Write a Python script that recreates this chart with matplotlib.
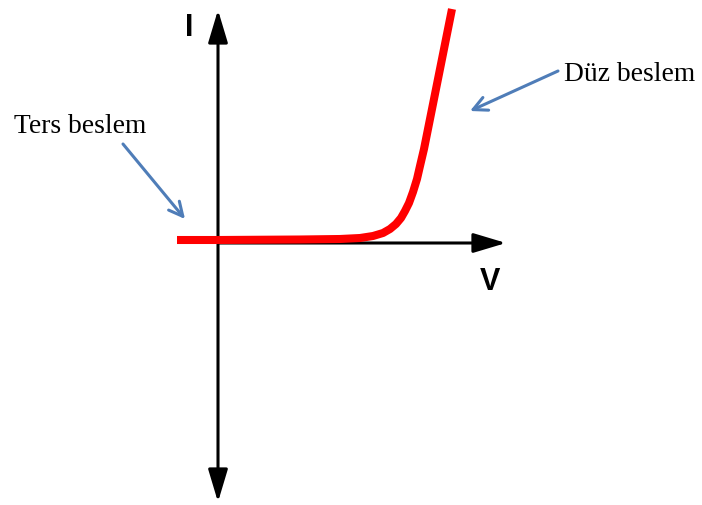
import matplotlib.pyplot as plt

# Diode I-V characteristic (arbitrary units, origin at axes crossing)
voltage = [-41, 0, 82, 122, 142, 155, 165, 172, 178, 183, 187, 191, 195, 199,
           202, 206, 212, 222, 234]
current = [3, 3, 3.5, 4, 5, 7, 10, 14, 19, 25, 32, 40, 51, 64,
           77, 94, 124, 174, 234]

labels = {"reverse": "Ters beslem", "forward": "Düz beslem"}

RED = "#FF0000"
BLUE = "#4F7DB8"

# Canvas in pixel-like units, origin at (218, 244) of a 702x506 picture
X0, Y0 = 218, 244
W, H = 702, 506


def px(x, y):
    return x - X0, Y0 - y


def main():
    fig = plt.figure(figsize=(W / 100, H / 100), dpi=100)
    ax = fig.add_axes([0, 0, 1, 1])
    ax.set_xlim(-X0, W - X0)
    ax.set_ylim(Y0 - H, Y0)
    ax.axis("off")

    # Axes arrows
    head = dict(lw=2.2, color="black", shrinkA=0, shrinkB=0)
    ax.annotate("", xy=px(218, 11), xytext=px(218, 503),
                arrowprops=dict(arrowstyle="<|-|>,head_length=2.0,head_width=0.6", **head))
    ax.annotate("", xy=px(506, 244), xytext=px(218, 244),
                arrowprops=dict(arrowstyle="-|>,head_length=2.0,head_width=0.6", **head))

    # Curve
    ax.plot(voltage, current, color=RED, lw=5.8, solid_capstyle="butt",
            solid_joinstyle="round", zorder=3)

    # Axis labels
    big = dict(fontsize=22, fontweight="bold", family="Liberation Sans",
               ha="center", va="baseline")
    ax.text(*px(189.5, 36), "I", **big)
    ax.text(*px(489.5, 290), "V", **big)

    # Annotations
    serif = dict(fontsize=19.8, family="Liberation Serif", va="baseline", ha="left")
    ax.text(*px(14, 133), labels["reverse"], **serif)
    ax.text(*px(564, 81), labels["forward"], **serif)

    blue = dict(arrowstyle="->,head_length=1.0,head_width=0.5", lw=2.2,
                color=BLUE, shrinkA=0, shrinkB=0)
    ax.annotate("", xy=px(185, 220), xytext=px(123, 145), arrowprops=blue)
    ax.annotate("", xy=px(470, 112), xytext=px(558, 72), arrowprops=blue)

    fig.savefig("out.png", dpi=100)
    plt.close(fig)


if __name__ == "__main__":
    main()
